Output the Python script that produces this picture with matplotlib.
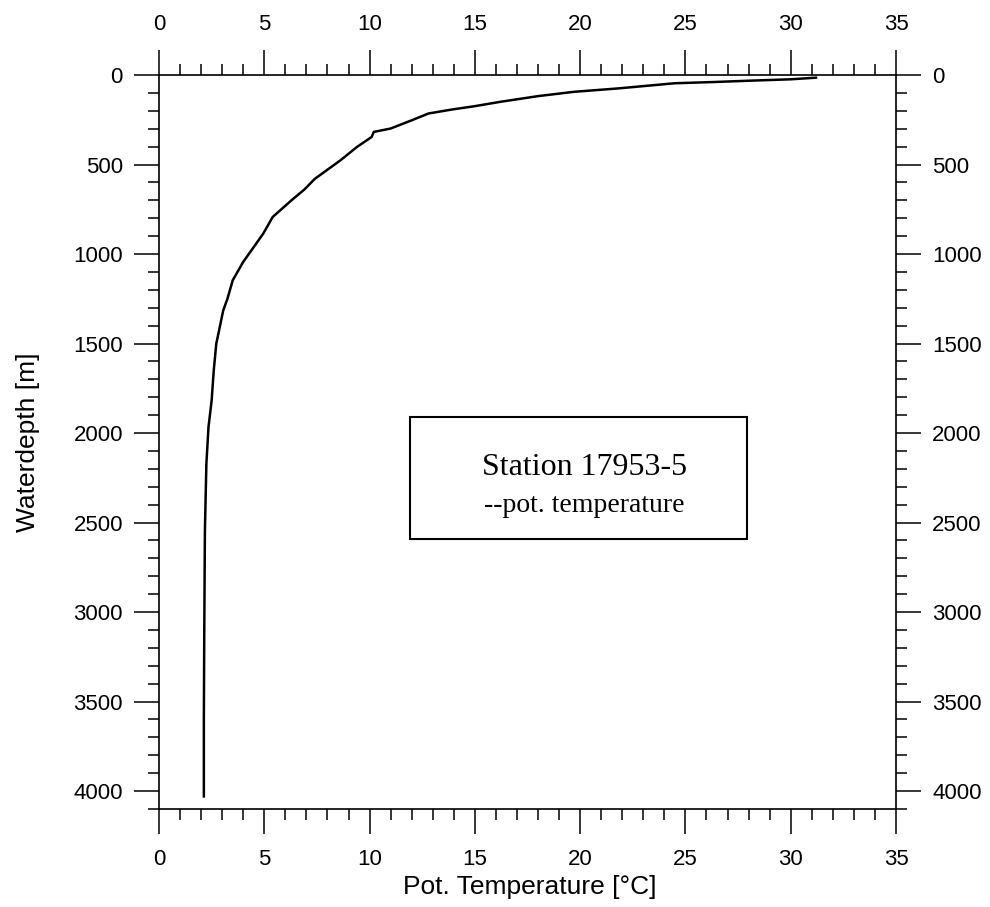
import matplotlib
matplotlib.use("Agg")
import matplotlib.pyplot as plt
from matplotlib.ticker import MultipleLocator
from matplotlib.patches import Rectangle

# Potential temperature profile, station 17953-5
pot_temperature = [31.2, 30.0, 28.0, 26.4, 24.5, 21.8, 19.7, 18.0, 16.2, 15.0,
                   13.9, 12.8, 12.0, 11.0, 10.2, 10.1, 9.4, 8.6, 7.4, 6.9,
                   6.3, 5.4, 4.95, 4.0, 3.5, 3.25, 3.05, 2.9, 2.72, 2.6,
                   2.5, 2.35, 2.25, 2.18, 2.15, 2.13, 2.13]
waterdepth = [15, 24, 32, 39, 46, 75, 94, 118, 150, 174,
              193, 215, 253, 299, 318, 346, 402, 478, 580, 640,
              699, 793, 886, 1044, 1147, 1250, 1315, 1400, 1501, 1650,
              1818, 1967, 2172, 2545, 3101, 3600, 4030]

x_ticks = [0, 5, 10, 15, 20, 25, 30, 35]
y_ticks = [0, 500, 1000, 1500, 2000, 2500, 3000, 3500, 4000]

W, H = 990, 907
fig = plt.figure(figsize=(W / 100, H / 100), dpi=100)
plt.rcParams['font.family'] = ['Liberation Sans', 'DejaVu Sans']

L, R, T, B = 159, 896, 75, 809
ax = fig.add_axes([L / W, 1 - B / H, (R - L) / W, (B - T) / H])

ax.plot(pot_temperature, waterdepth, color='black', lw=1.8)

ax.set_xlim(0, 35)
ax.set_ylim(4100, 0)
ax.set_xticks(x_ticks)
ax.set_yticks(y_ticks)
ax.xaxis.set_minor_locator(MultipleLocator(1))
ax.yaxis.set_minor_locator(MultipleLocator(100))

for s in ax.spines.values():
    s.set_linewidth(1.2)

ax.tick_params(which='both', direction='out', top=True, right=True,
               labeltop=True, labelright=True, width=1.1, color='black')
ax.tick_params(which='major', length=18, labelsize=16)
ax.tick_params(which='minor', length=8)
ax.tick_params(axis='x', which='major', pad=11)
ax.tick_params(axis='y', which='major', pad=8)

ax.set_xlabel('Pot. Temperature [°C]', fontsize=19)
ax.set_ylabel('Waterdepth [m]', fontsize=19)
ax.xaxis.set_label_coords(0.503, -0.09)
ax.yaxis.set_label_coords(-0.162, 0.5)

# annotation box
bx0, bx1 = (410 - L) / (R - L), (747 - L) / (R - L)
by0, by1 = (B - 539) / (B - T), (B - 417) / (B - T)
ax.add_patch(Rectangle((bx0, by0), bx1 - bx0, by1 - by0, transform=ax.transAxes,
                       fill=False, edgecolor='black', lw=1.5))
ax.text((585 - L) / (R - L), (B - 475) / (B - T), 'Station 17953-5',
        transform=ax.transAxes, ha='center', va='baseline',
        family=['Liberation Serif'], fontsize=23)
ax.text((584 - L) / (R - L), (B - 512) / (B - T), '--pot. temperature',
        transform=ax.transAxes, ha='center', va='baseline',
        family=['Liberation Serif'], fontsize=20)

fig.savefig('out.png', dpi=100)
